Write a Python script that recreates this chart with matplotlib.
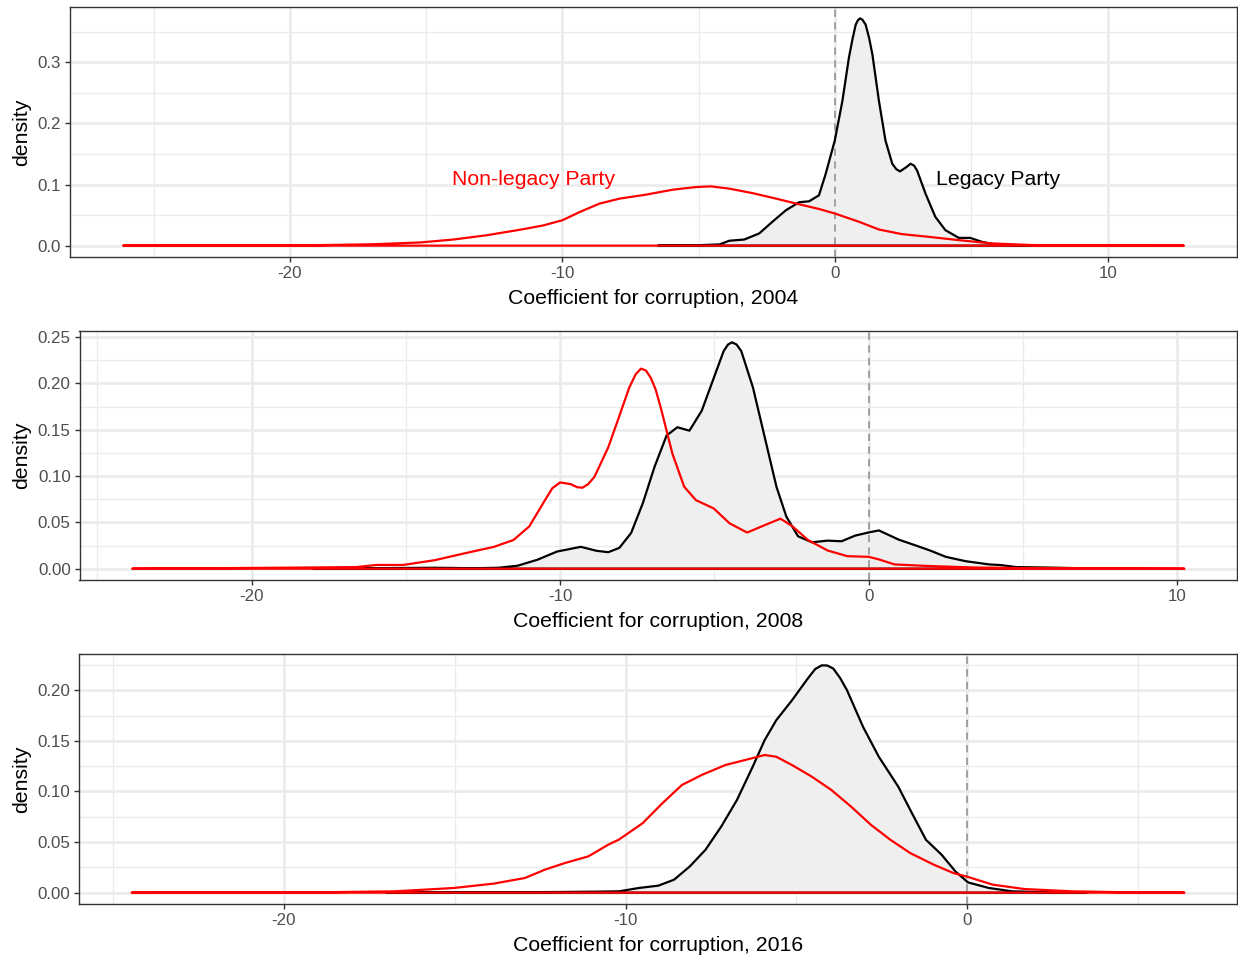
import matplotlib
matplotlib.use("Agg")
import matplotlib.pyplot as plt
from matplotlib.ticker import MultipleLocator, FormatStrFormatter, FuncFormatter
from matplotlib.transforms import blended_transform_factory

plt.rcParams['font.family'] = ['Liberation Sans', 'DejaVu Sans']

# ---------------- data ----------------
# 2004
legacy_2004_x = [-6.5, -5.5, -4.98, -4.24, -3.88, -3.33, -2.78, -2.3, -1.80, -1.32, -0.95, -0.59,
                 -0.34, -0.01, 0.27, 0.51, 0.64, 0.76, 0.84, 0.915, 1.0, 1.12, 1.25, 1.37, 1.61,
                 1.85, 2.10, 2.25, 2.38, 2.6, 2.77, 2.9, 3.01, 3.32, 3.68, 4.05, 4.54, 4.96, 5.39,
                 5.88, 6.73, 7.2]
legacy_2004_y = [0.0, 0.0003, 0.0008, 0.002, 0.008, 0.010, 0.020, 0.039, 0.058, 0.071, 0.0726, 0.0824,
                 0.118, 0.172, 0.237, 0.308, 0.338, 0.362, 0.369, 0.372, 0.370, 0.362, 0.340, 0.313,
                 0.237, 0.172, 0.134, 0.125, 0.1215, 0.128, 0.134, 0.131, 0.123, 0.085, 0.047,
                 0.0253, 0.0127, 0.0127, 0.0062, 0.002, 0.0003, 0.0]
nonlegacy_2004_x = [-26.12, -22.0, -19.0, -17.0, -15.22, -14.0, -12.78, -11.56, -10.71, -10.0, -9.37,
                    -8.64, -7.90, -6.93, -5.95, -5.10, -4.55, -3.88, -3.03, -2.17, -1.32, -0.59, 0.0,
                    0.88, 1.61, 2.46, 3.44, 4.54, 5.75, 7.34, 9.17, 12.8]
nonlegacy_2004_y = [0.0, 0.0002, 0.0008, 0.0022, 0.0052, 0.010, 0.017, 0.026, 0.033, 0.0416, 0.055,
                    0.0688, 0.077, 0.0835, 0.0916, 0.0959, 0.097, 0.0933, 0.086, 0.077, 0.0677, 0.0600,
                    0.0525, 0.039, 0.0264, 0.0188, 0.0144, 0.009, 0.0036, 0.0008, 0.0002, 0.0]

# 2008
legacy_2008_x = [-18.0, -17.26, -15.34, -14.06, -12.76, -12.0, -11.38, -10.74, -10.1, -9.33, -8.82,
                 -8.44, -8.08, -7.70, -7.32, -6.94, -6.55, -6.20, -5.81, -5.41, -5.02, -4.70, -4.56,
                 -4.43, -4.28, -4.13, -3.75, -3.37, -2.99, -2.67, -2.29, -1.84, -1.33, -0.88, -0.44,
                 0.01, 0.33, 0.97, 1.60, 1.99, 2.50, 3.14, 3.90, 4.28, 4.79, 5.68, 6.57, 7.21]
legacy_2008_y = [0.0, 0.0003, 0.0007, 0.001, 0.0005, 0.001, 0.0032, 0.0096, 0.0185, 0.0236, 0.0193,
                 0.0178, 0.0225, 0.0385, 0.0707, 0.110, 0.1438, 0.1527, 0.149, 0.1706, 0.206, 0.235,
                 0.242, 0.2444, 0.242, 0.235, 0.1955, 0.142, 0.0885, 0.0563, 0.035, 0.0285, 0.0303,
                 0.0296, 0.0357, 0.0392, 0.0413, 0.0314, 0.0242, 0.0196, 0.0128, 0.0081, 0.0046,
                 0.0039, 0.0017, 0.0013, 0.0007, 0.0]
nonlegacy_2008_x = [-23.87, -19.18, -16.62, -15.96, -15.09, -14.06, -13.04, -12.15, -11.51, -11.0,
                    -10.49, -10.25, -10.0, -9.66, -9.45, -9.28, -9.1, -8.89, -8.44, -8.08, -7.76,
                    -7.55, -7.38, -7.22, -7.06, -6.9, -6.74, -6.36, -5.98, -5.60, -5.02, -4.51, -3.94,
                    -3.37, -2.86, -2.48, -1.97, -1.33, -0.69, 0.0, 0.33, 0.84, 1.86, 3.39, 5.30, 10.23]
nonlegacy_2008_y = [0.0, 0.001, 0.0017, 0.004, 0.004, 0.0092, 0.017, 0.0235, 0.031, 0.0456, 0.074,
                    0.087, 0.0931, 0.0913, 0.088, 0.0874, 0.091, 0.099, 0.131, 0.165, 0.1955, 0.210,
                    0.216, 0.214, 0.206, 0.193, 0.174, 0.124, 0.0885, 0.074, 0.065, 0.049, 0.039,
                    0.047, 0.054, 0.046, 0.031, 0.0196, 0.0135, 0.0128, 0.010, 0.0046, 0.003, 0.0013,
                    0.0005, 0.0]

# 2016
legacy_2016_x = [-17.0, -14.0, -12.0, -10.8, -10.19, -9.61, -9.04, -8.58, -8.12, -7.66, -7.20, -6.74,
                 -6.28, -5.93, -5.59, -5.13, -4.67, -4.45, -4.26, -4.1, -3.92, -3.72, -3.52, -3.05,
                 -2.59, -2.02, -1.62, -1.21, -0.75, -0.35, 0.02, 0.63, 1.32, 2.47, 3.5]
legacy_2016_y = [0.0, 0.0003, 0.0006, 0.001, 0.0013, 0.0046, 0.0069, 0.0128, 0.0259, 0.0424, 0.0653,
                 0.0916, 0.1244, 0.1507, 0.1704, 0.1901, 0.2115, 0.221, 0.2246, 0.2245, 0.2214,
                 0.212, 0.200, 0.1638, 0.1343, 0.1047, 0.0785, 0.0522, 0.0374, 0.021, 0.0101,
                 0.0046, 0.0013, 0.0003, 0.0]
nonlegacy_2016_x = [-24.45, -19.06, -16.75, -15.02, -13.86, -12.94, -12.36, -11.78, -11.09, -10.51,
                    -10.19, -9.50, -8.92, -8.35, -7.77, -7.08, -6.51, -5.93, -5.59, -5.13, -4.55,
                    -3.98, -3.40, -2.82, -2.25, -1.67, -0.98, -0.41, 0.02, 0.74, 1.66, 3.05, 4.77,
                    6.35]
nonlegacy_2016_y = [0.0, 0.0003, 0.0013, 0.0046, 0.0089, 0.0145, 0.0227, 0.0292, 0.0358, 0.0473,
                    0.0525, 0.0686, 0.0884, 0.1064, 0.1163, 0.1261, 0.131, 0.136, 0.1343, 0.1261,
                    0.1146, 0.1015, 0.085, 0.067, 0.0522, 0.0391, 0.0276, 0.0194, 0.0155, 0.0079,
                    0.0036, 0.0013, 0.0003, 0.0]

years = ["2004", "2008", "2016"]
y_steps = [0.1, 0.05, 0.05]
y_formats = ['%.1f', '%.2f', '%.2f']
label_nonlegacy = "Non-legacy Party"
label_legacy = "Legacy Party"
label_pos_nonlegacy = (-11.05, 0.108)
label_pos_legacy = (5.96, 0.108)

panels = [
    (legacy_2004_x, legacy_2004_y, nonlegacy_2004_x, nonlegacy_2004_y),
    (legacy_2008_x, legacy_2008_y, nonlegacy_2008_x, nonlegacy_2008_y),
    (legacy_2016_x, legacy_2016_y, nonlegacy_2016_x, nonlegacy_2016_y),
]

# ---------------- figure ----------------
W, H = 1238, 958
fig = plt.figure(figsize=(W / 100, H / 100), dpi=100)

# pixel boxes: left, right, top, bottom
boxes = [(70, 1237, 7, 257), (79.5, 1237, 331, 580), (79, 1237, 654, 904)]

grid_col = '#EBEBEB'
text_col = '#4D4D4D'
dark = '#333333'

for i, ((lx, ly, nx, ny), (l, r, t, b)) in enumerate(zip(panels, boxes)):
    ax = fig.add_axes([l / W, (H - b) / H, (r - l) / W, (b - t) / H])
    xmin = min(min(lx), min(nx)); xmax = max(max(lx), max(nx))
    ymax = max(max(ly), max(ny))
    dx = (xmax - xmin) * 0.05; dy = ymax * 0.05
    ax.set_xlim(xmin - dx, xmax + dx)
    ax.set_ylim(-dy, ymax + dy)

    ax.xaxis.set_major_locator(MultipleLocator(10))
    ax.xaxis.set_minor_locator(MultipleLocator(5))
    ax.yaxis.set_major_locator(MultipleLocator(y_steps[i]))
    ax.yaxis.set_minor_locator(MultipleLocator(y_steps[i] / 2))
    ax.grid(which='major', color=grid_col, linewidth=1.9, zorder=0)
    ax.grid(which='minor', color=grid_col, linewidth=0.95, zorder=0)
    ax.set_axisbelow(True)

    ax.yaxis.set_major_formatter(FormatStrFormatter(y_formats[i]))
    ax.xaxis.set_major_formatter(FuncFormatter(lambda v, p: f"{int(round(v))}"))

    ax.tick_params(which='major', length=3.8, width=1.0, color=dark, labelsize=12.2,
                   labelcolor=text_col, pad=2.5)
    ax.tick_params(which='minor', length=0)
    for s in ax.spines.values():
        s.set_color(dark)
        s.set_linewidth(1.0)

    # legacy: filled polygon with full outline
    ax.fill(lx, ly, facecolor='#EFEFEF', edgecolor='none', zorder=2)
    ax.axvline(0, color='#9A9A9A', linestyle=(0, (4, 3)), linewidth=1.3, zorder=3)
    ax.fill(lx, ly, facecolor='none', edgecolor='black', linewidth=1.6, zorder=4,
            joinstyle='round')
    # non-legacy: outline only (closed polygon, baseline included)
    ax.fill(nx, ny, facecolor='none', edgecolor='#FF0000', linewidth=1.6, zorder=5,
            joinstyle='round')

    ax.set_xlabel(f"Coefficient for corruption, {years[i]}", fontsize=15.3, color='black',
                  labelpad=6.0)
    ax.set_ylabel("density", fontsize=15.3, color='black')
    ax.yaxis.set_label_coords(31 / W, 0.5,
                              transform=blended_transform_factory(fig.transFigure, ax.transAxes))

    if i == 0:
        ax.text(*label_pos_nonlegacy, label_nonlegacy, color='#FF0000', fontsize=15.3,
                ha='center', va='center', zorder=6)
        ax.text(*label_pos_legacy, label_legacy, color='black', fontsize=15.3,
                ha='center', va='center', zorder=6)

fig.savefig("out.png", dpi=100, facecolor='white')
